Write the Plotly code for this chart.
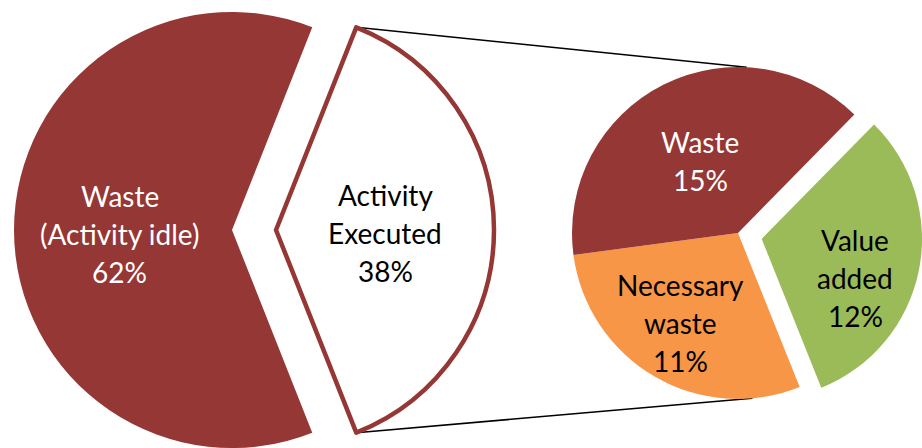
import math
import plotly.graph_objects as go

# ---------------- data ----------------
main_labels = ["Activity<br>Executed", "Waste<br>(Activity idle)"]
main_values = [38, 62]
sub_labels = ["Value<br>added", "Necessary<br>waste", "Waste"]
sub_values = [12, 11, 15]

# ---------------- styling / layout ----------------
W, H = 922, 448
RED = "#953735"
ORANGE = "#F79646"
GREEN = "#9BBB59"
CLEAR = "rgba(0,0,0,0)"
FONT = "Lato"
FS = 28

main_cx, main_cy, main_r = 232, 230, 218
main_shift = 44                      # explosion of the "Activity Executed" slice (px)
main_rot = 90 - 360 * main_values[0] / sum(main_values) / 2
sub_cx, sub_cy, sub_r = 738, 233, 166
sub_rot = 44.5
sub_pull = 30                         # explosion of "Value added" (px)


def dom(cx, cy, r):
    return dict(x=[max(0, (cx - r) / W), min(1, (cx + r) / W)],
                y=[max(0, 1 - (cy + r) / H), min(1, 1 - (cy - r) / H)])


fig = go.Figure()

# main pie: waste part
fig.add_trace(go.Pie(
    labels=main_labels, values=main_values, sort=False, direction="clockwise",
    rotation=main_rot, textinfo="none", domain=dom(main_cx, main_cy, main_r),
    marker=dict(colors=[CLEAR, RED], line=dict(width=[0, 0], color=[RED, RED])),
    showlegend=False, hoverinfo="label+percent"))
# main pie: exploded activity slice
fig.add_trace(go.Pie(
    labels=main_labels, values=main_values, sort=False, direction="clockwise",
    rotation=main_rot, textinfo="none",
    domain=dom(main_cx + main_shift, main_cy, main_r),
    marker=dict(colors=["white", CLEAR], line=dict(width=[4.5, 0], color=[RED, RED])),
    showlegend=False, hoverinfo="label+percent"))

# secondary pie
sub_total = sum(sub_values)
mid = math.radians(sub_rot + 360 * sub_values[0] / sub_total / 2)
gdx = sub_pull * math.sin(mid)
gdy = -sub_pull * math.cos(mid)      # screen-down offset
fig.add_trace(go.Pie(
    labels=sub_labels, values=sub_values, sort=False, direction="clockwise",
    rotation=sub_rot, textinfo="none", domain=dom(sub_cx, sub_cy, sub_r),
    marker=dict(colors=[CLEAR, ORANGE, RED]),
    showlegend=False, hoverinfo="label"))
fig.add_trace(go.Pie(
    labels=sub_labels, values=sub_values, sort=False, direction="clockwise",
    rotation=sub_rot, textinfo="none",
    domain=dom(sub_cx + gdx, sub_cy + gdy, sub_r),
    marker=dict(colors=[GREEN, CLEAR, CLEAR]),
    showlegend=False, hoverinfo="label"))

# ---------------- labels ----------------
annotations = []
GAP = 38


def add_label(text, value, cx, cy, color):
    lines = text.split("<br>") + [f"{value}%"]
    n = len(lines)
    for i, ln in enumerate(lines):
        y = cy + (i - (n - 1) / 2) * GAP
        annotations.append(dict(x=cx / W, y=1 - y / H, xref="paper", yref="paper",
                                text=ln, showarrow=False, xanchor="center",
                                yanchor="middle",
                                font=dict(family=FONT, size=FS, color=color)))


main_pos = [(385, 233), (120, 234)]
main_col = ["black", "white"]
for lab, v, (x, y), c in zip(main_labels, main_values, main_pos, main_col):
    add_label(lab, v, x, y, c)

sub_pos = [(855, 278), (680, 323), (700, 161)]
sub_col = ["black", "black", "white"]
for lab, v, (x, y), c in zip(sub_labels, sub_values, sub_pos, sub_col):
    add_label(lab, v, x, y, c)

# ---------------- connector lines ----------------
acx = main_cx + main_shift
a0 = math.radians(main_rot)
a1 = math.radians(main_rot + 360 * main_values[0] / sum(main_values))
p_top = (acx + main_r * math.sin(a0), main_cy - main_r * math.cos(a0))
p_bot = (acx + main_r * math.sin(a1), main_cy - main_r * math.cos(a1))
s_top = (sub_cx + sub_r * math.sin(math.radians(3)), sub_cy - sub_r * math.cos(math.radians(3)))
s_bot = (sub_cx + sub_r * math.sin(math.radians(175)), sub_cy - sub_r * math.cos(math.radians(175)))
shapes = []
for (x0, y0), (x1, y1) in [(p_top, s_top), (p_bot, s_bot)]:
    shapes.append(dict(type="line", xref="paper", yref="paper",
                       x0=x0 / W, y0=1 - y0 / H, x1=x1 / W, y1=1 - y1 / H,
                       line=dict(color="black", width=1.5), layer="below"))

fig.update_layout(width=W, height=H, margin=dict(l=0, r=0, t=0, b=0),
                  paper_bgcolor="white", plot_bgcolor="white",
                  annotations=annotations, shapes=shapes, showlegend=False)
fig.write_html("out.html")
